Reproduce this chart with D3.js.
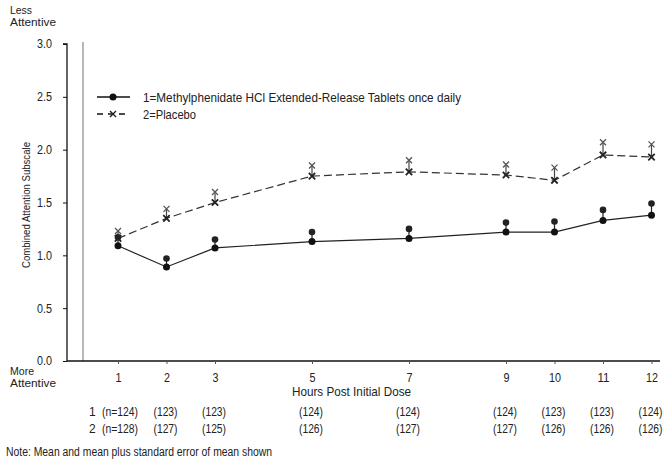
<!DOCTYPE html>
<html><head><meta charset="utf-8">
<script src="https://cdn.jsdelivr.net/npm/d3@7"></script>
<style>
body{margin:0;background:#fff;}
svg text{font-family:"Liberation Sans",Arial,sans-serif;fill:#222;}
</style></head><body>
<svg id="c" width="672" height="461"></svg>
<script>
const hours = [1, 2, 3, 5, 7, 9, 10, 11, 12];
const mphMean  = [1.09, 0.89, 1.07, 1.13, 1.16, 1.22, 1.22, 1.33, 1.38];
const mphUpper = [1.17, 0.97, 1.15, 1.22, 1.25, 1.31, 1.32, 1.43, 1.49];
const pboMean  = [1.16, 1.35, 1.50, 1.75, 1.79, 1.76, 1.71, 1.95, 1.93];
const pboUpper = [1.23, 1.44, 1.60, 1.85, 1.90, 1.86, 1.83, 2.07, 2.05];
const nMph = [124, 123, 123, 124, 124, 124, 123, 123, 124];
const nPbo = [128, 127, 125, 126, 127, 127, 126, 126, 126];
const yTicks = [0, 0.5, 1.0, 1.5, 2.0, 2.5, 3.0];
const legendLabels = ["1=Methylphenidate HCl Extended-Release Tablets once daily", "2=Placebo"];

const svg = d3.select("#c");
const x = d3.scaleLinear().domain([1, 12]).range([118, 651.5]);
const y = d3.scaleLinear().domain([0, 3]).range([361, 44]);

// Y axis
const yAx = svg.append("g").attr("transform", "translate(67,0)")
  .call(d3.axisLeft(y).tickValues(yTicks).tickFormat(d3.format(".1f")).tickSize(4).tickPadding(11));
yAx.select(".domain").attr("stroke", "#111").attr("stroke-width", 1.3).attr("d", "M-4,44H0V361");
yAx.selectAll(".tick line").attr("stroke", "#111");
yAx.selectAll(".tick text").attr("font-size", 12).attr("fill", "#222")
  .style("font-family", "'Liberation Sans',Arial,sans-serif")
  .attr("textLength", 15).attr("lengthAdjust", "spacingAndGlyphs");

// grey inner line
svg.append("line").attr("x1", 83).attr("x2", 83).attr("y1", 42).attr("y2", 361)
  .attr("stroke", "#888").attr("stroke-width", 1.2);

// X axis
const xAx = svg.append("g").attr("transform", "translate(0,361)")
  .call(d3.axisBottom(x).tickValues(hours).tickFormat(d3.format("d")).tickSize(3).tickPadding(9));
xAx.select(".domain").attr("stroke", "#111").attr("stroke-width", 1.3).attr("d", "M67,0H660");
xAx.selectAll(".tick line").attr("stroke", "#555");
xAx.selectAll(".tick text").attr("font-size", 12).attr("fill", "#222")
  .style("font-family", "'Liberation Sans',Arial,sans-serif")
  .each(function(d){ d3.select(this).attr("textLength", d >= 10 ? 12 : 6).attr("lengthAdjust", "spacingAndGlyphs"); });

// labels
const t = (txt, px, py, size, anchor, len) => {
  const el = svg.append("text").attr("x", px).attr("y", py)
    .attr("font-size", size).attr("text-anchor", anchor || "start").text(txt);
  if (len) el.attr("textLength", len).attr("lengthAdjust", "spacingAndGlyphs");
  return el;
};
t("Less", 10, 14, 11.5, "start", 22); t("Attentive", 10, 26, 11.5, "start", 46);
t("More", 10, 375, 11.5, "start", 24); t("Attentive", 10, 387, 11.5, "start", 46);
t("Hours Post Initial Dose", 351.5, 396, 13.5, "middle", 119);
svg.append("text").attr("transform", "translate(30,205) rotate(-90)").attr("text-anchor", "middle")
  .attr("font-size", 11).attr("textLength", 126).attr("lengthAdjust", "spacingAndGlyphs")
  .text("Combined Attention Subscale");
t("Note:  Mean and mean plus standard error of mean shown", 6, 456, 12, "start", 266);

// n rows
t("1", 89, 416, 12); t("2", 89, 433, 12);
hours.forEach((h, i) => {
  if (i === 0) {
    t("(n=" + nMph[i] + ")", 102, 416, 12, "start", 36);
    t("(n=" + nPbo[i] + ")", 102, 433, 12, "start", 36);
  } else {
    t("(" + nMph[i] + ")", x(h) - 1, 416, 12, "middle", 24);
    t("(" + nPbo[i] + ")", x(h) - 1, 433, 12, "middle", 24);
  }
});

// error bars
const eb = (mean, up, col) => hours.forEach((h, i) => svg.append("line")
  .attr("x1", x(h)).attr("x2", x(h)).attr("y1", y(mean[i])).attr("y2", y(up[i]))
  .attr("stroke", col).attr("stroke-width", 1.2));
eb(pboMean, pboUpper, "#444");
eb(mphMean, mphUpper, "#222");

// lines
const line = (arr) => d3.line().x((d, i) => x(hours[i])).y(d => y(d))(arr);
svg.append("path").attr("d", line(pboMean)).attr("fill", "none").attr("stroke", "#333")
  .attr("stroke-width", 1.2).attr("stroke-dasharray", "8,4");
svg.append("path").attr("d", line(mphMean)).attr("fill", "none").attr("stroke", "#222")
  .attr("stroke-width", 1.2);

// markers
const cross = (px, py, s, col, w) => svg.append("path")
  .attr("d", `M${px - s},${py - s}L${px + s},${py + s}M${px - s},${py + s}L${px + s},${py - s}`)
  .attr("stroke", col).attr("stroke-width", w).attr("fill", "none");
hours.forEach((h, i) => {
  cross(x(h), y(pboUpper[i]), 3, "#555", 1.3);
  cross(x(h), y(pboMean[i]), 3.2, "#222", 1.8);
  svg.append("circle").attr("cx", x(h)).attr("cy", y(mphUpper[i])).attr("r", 3.3).attr("fill", "#222");
  svg.append("circle").attr("cx", x(h)).attr("cy", y(mphMean[i])).attr("r", 3.5).attr("fill", "#111");
});

// legend
svg.append("line").attr("x1", 97).attr("x2", 130).attr("y1", 97).attr("y2", 97).attr("stroke", "#111").attr("stroke-width", 1.3);
svg.append("circle").attr("cx", 113).attr("cy", 97).attr("r", 3.5).attr("fill", "#111");
svg.append("line").attr("x1", 97).attr("x2", 130).attr("y1", 114).attr("y2", 114).attr("stroke", "#111")
  .attr("stroke-width", 1.3).attr("stroke-dasharray", "6,5");
cross(113, 114, 3, "#222", 1.4);
t(legendLabels[0], 143, 102, 13, "start", 318);
t(legendLabels[1], 143, 119, 13, "start", 53);
</script></body></html>
